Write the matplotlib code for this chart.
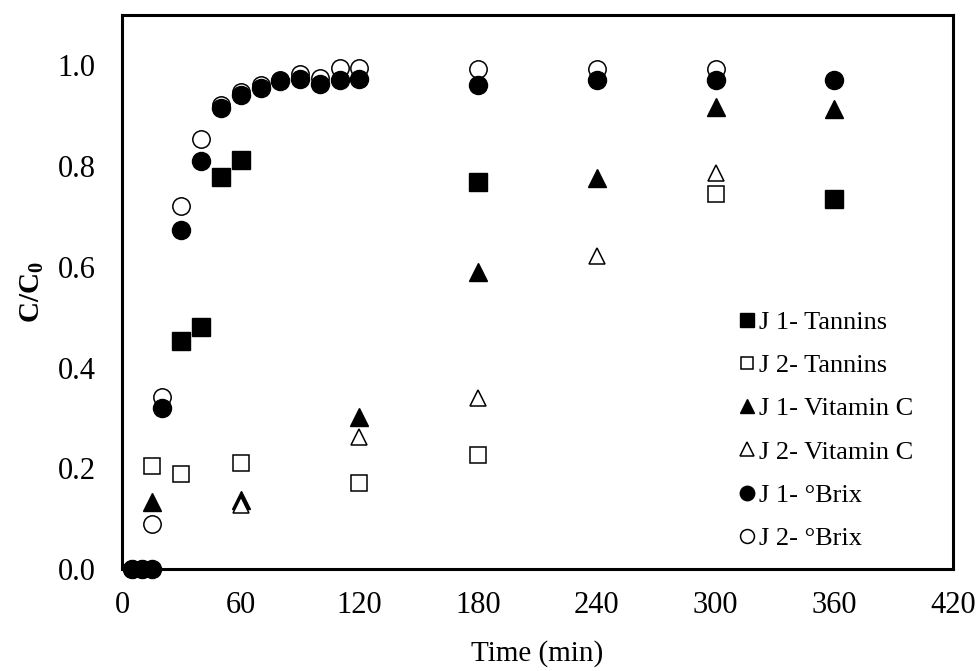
import matplotlib
matplotlib.use('Agg')
import matplotlib.pyplot as plt

# ==========================================
# 1. DADOS
# ==========================================
t_j1_tan = [30, 40, 50, 60, 180, 360]
j1_tan = [0.453, 0.481, 0.779, 0.813, 0.769, 0.734]

t_j2_tan = [15, 30, 60, 120, 180, 300]
j2_tan = [0.205, 0.189, 0.211, 0.171, 0.227, 0.744]

t_j1_vitc = [15, 60, 120, 180, 240, 300, 360]
j1_vitc = [0.133, 0.137, 0.302, 0.590, 0.777, 0.917, 0.913]

t_j2_vitc = [60, 120, 180, 240, 300]
j2_vitc = [0.127, 0.262, 0.340, 0.622, 0.787]

t_j1_brix = [5, 10, 15, 20, 30, 40, 50, 60, 70, 80, 90, 100, 110, 120, 180, 240, 300, 360]
j1_brix = [0, 0, 0, 0.319, 0.673, 0.810, 0.915, 0.942, 0.956, 0.970, 0.974, 0.964,
           0.972, 0.974, 0.962, 0.972, 0.972, 0.972]

t_j2_brix = [5, 10, 15, 20, 30, 40, 50, 60, 70, 80, 90, 100, 110, 120, 180, 240, 300]
j2_brix = [0, 0, 0.089, 0.342, 0.720, 0.853, 0.922, 0.948, 0.962, 0.972, 0.984, 0.976,
           0.994, 0.994, 0.992, 0.992, 0.992]

x_ticks = [0, 60, 120, 180, 240, 300, 360, 420]
y_ticks = [0.0, 0.2, 0.4, 0.6, 0.8, 1.0]

# ==========================================
# 2. GRÁFICO
# ==========================================
plt.rcParams['font.family'] = ['Liberation Serif', 'DejaVu Serif']

fig = plt.figure(figsize=(9.76, 6.71), dpi=100)
ax = fig.add_axes([0.125, 0.152, 0.8515, 0.8255])

ms = 13
ax.plot(t_j1_tan, j1_tan, 's', color='black', ms=ms, label='J 1- Tannins', clip_on=False)
ax.plot(t_j2_tan, j2_tan, 's', mfc='white', mec='black', mew=1.1, ms=ms - 1.5,
        label='J 2- Tannins', clip_on=False)
ax.plot(t_j1_vitc, j1_vitc, '^', color='black', ms=ms, label='J 1- Vitamin C', clip_on=False)
ax.plot(t_j2_vitc, j2_vitc, '^', mfc='white', mec='black', mew=1.1, ms=ms - 1,
        label='J 2- Vitamin C', clip_on=False)
ax.plot(t_j1_brix, j1_brix, 'o', color='black', ms=ms, label='J 1- °Brix', clip_on=False, zorder=4)
ax.plot(t_j2_brix, j2_brix, 'o', mfc='white', mec='black', mew=1.1, ms=ms - 0.5,
        label='J 2- °Brix', clip_on=False, zorder=3)

ax.set_xlim(0, 420)
ax.set_ylim(0, 1.1)
ax.set_xticks(x_ticks)
ax.set_yticks(y_ticks)
ax.set_yticklabels([f'{v:.1f}' for v in y_ticks])
ax.tick_params(axis='both', length=0, labelsize=22)
ax.tick_params(axis='x', pad=16)
ax.tick_params(axis='y', pad=19)

for s in ax.spines.values():
    s.set_linewidth(2.2)

ax.set_xlabel('Time (min)', fontsize=21, labelpad=14)
ax.set_ylabel('C/C$_\\mathregular{0}$', fontsize=21, fontweight='bold', labelpad=8)

ax.legend(loc='lower left', bbox_to_anchor=(0.73, 0.015), frameon=False, fontsize=19,
          handlelength=0.6, handletextpad=0.15, labelspacing=0.75, markerscale=0.8,
          borderaxespad=0)

plt.savefig('out.png', dpi=100)
plt.close()
